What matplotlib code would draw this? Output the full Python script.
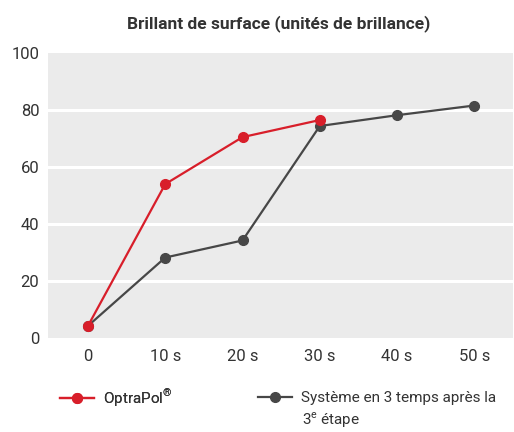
import matplotlib
matplotlib.use("Agg")
import matplotlib.pyplot as plt
from matplotlib.lines import Line2D

# ── Données ────────────────────────────────────────────────
categories = ["0", "10 s", "20 s", "30 s", "40 s", "50 s"]
optrapol = [4.2, 54.0, 70.5, 76.5]
systeme = [4.2, 28.2, 34.2, 74.4, 78.2, 81.6]
yticks = [0, 20, 40, 60, 80, 100]

RED = "#d81e2a"
GREY = "#474747"
BG = "#ebebeb"
TXT = "#333333"

plt.rcParams["font.family"] = ["Roboto", "DejaVu Sans"]
plt.rcParams["mathtext.fontset"] = "custom"
plt.rcParams["mathtext.rm"] = "Roboto"

fig = plt.figure(figsize=(5.14, 4.32), dpi=100)
ax = fig.add_axes([0.093, 0.218, 0.905, 0.659])
ax.set_facecolor(BG)

x_all = list(range(len(categories)))
ax.plot(x_all[:len(systeme)], systeme, color=GREY, lw=1.6, marker="o",
        ms=7, zorder=3)
ax.plot(x_all[:len(optrapol)], optrapol, color=RED, lw=1.6, marker="o",
        ms=7, zorder=4)

ax.set_xlim(-0.52, 5.5)
ax.set_ylim(0, 100)
ax.set_xticks(x_all)
ax.set_xticklabels(categories)
ax.set_yticks(yticks)
ax.tick_params(length=0, labelsize=12, labelcolor=TXT)
ax.tick_params(axis="y", pad=6)
ax.tick_params(axis="x", pad=8)
for s in ax.spines.values():
    s.set_visible(False)
for v in yticks[1:-1]:
    ax.axhline(v, color="white", lw=2.2, zorder=1)

fig.text(0.543, 0.945, "Brillant de surface (unités de brillance)",
         ha="center", va="center", fontsize=12.5, fontweight="bold", color=TXT)

# ── Légende (deux blocs) ───────────────────────────────────
leg_kw = dict(loc="center left", frameon=False, fontsize=11, handlelength=2.2,
              handletextpad=0.6, borderpad=0, borderaxespad=0, labelcolor=TXT)
h1 = Line2D([], [], color=RED, lw=1.6, marker="o", ms=7)
h2 = Line2D([], [], color=GREY, lw=1.6, marker="o", ms=7)
l1 = fig.legend([h1], [r"OptraPol$^{\mathrm{®}}$"],
                bbox_to_anchor=(0.117, 0.079), **leg_kw)
fig.add_artist(l1)
fig.legend([h2], ["Système en 3 temps après la"],
           bbox_to_anchor=(0.502, 0.079), **leg_kw)
fig.text(0.588, 0.028, r"3$^{\mathrm{e}}$ étape", ha="left", va="center",
         fontsize=11, color=TXT)

fig.savefig("out.png", dpi=100)
